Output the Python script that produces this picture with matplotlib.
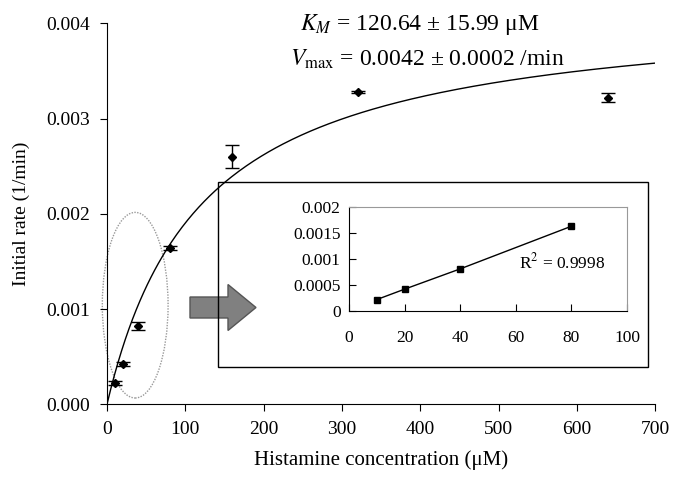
import numpy as np
import matplotlib.pyplot as plt
from matplotlib.patches import Ellipse, Rectangle, FancyArrow

plt.rcParams['font.family'] = ['Liberation Serif', 'DejaVu Serif']
plt.rcParams['mathtext.fontset'] = 'stix'

# histamine kinetics data
conc = [10, 20, 40, 80, 160, 320, 640]
rate = [0.00022, 0.00042, 0.00082, 0.00164, 0.00260, 0.00328, 0.00322]
rate_err = [0.00002, 0.00002, 0.00004, 0.00002, 0.00012, 0.00001, 0.00005]

# Michaelis-Menten fit parameters
km = 120.64
vmax = 0.0042

# linear region (inset)
lin_conc = [10, 20, 40, 80]
lin_rate = [0.00022, 0.00042, 0.00081, 0.00163]

fig = plt.figure(figsize=(6.86, 4.87), dpi=100)
ax = fig.add_axes([0.156, 0.170, 0.799, 0.782])

xs = np.linspace(0, 700, 300)
ax.plot(xs, vmax * xs / (km + xs), color='black', lw=1)
ax.errorbar(conc, rate, yerr=rate_err, fmt='D', color='black', ms=4.5,
            capsize=5, elinewidth=1, capthick=1)

ax.set_xlim(0, 700)
ax.set_ylim(0, 0.004)
ax.set_xticks(range(0, 701, 100))
ax.set_yticks([0, 0.001, 0.002, 0.003, 0.004])
ax.set_yticklabels(['0.000', '0.001', '0.002', '0.003', '0.004'])
ax.tick_params(labelsize=14, direction='out', length=5, pad=7)
for s in ['top', 'right']:
    ax.spines[s].set_visible(False)
ax.set_xlabel('Histamine concentration (μM)', fontsize=15, labelpad=9)
ax.set_ylabel('Initial rate (1/min)', fontsize=14, labelpad=12)

ax.text(246, 0.00399, r'$K_M$ = 120.64 ± 15.99 μM', fontsize=17, va='center')
ax.text(234, 0.00362, r'$V_{\mathrm{max}}$ = 0.0042 ± 0.0002 /min', fontsize=17,
        va='center')

ell = Ellipse((36, 0.00104), 84, 0.00195, fill=False, ec='#999999',
              ls=(0, (1, 1)), lw=1, clip_on=False)
ax.add_patch(ell)

fig.patches.append(FancyArrow(190 / 686, 1 - 307.5 / 487, 38 / 686, 0,
                              width=21 / 487, head_width=46 / 487,
                              head_length=28 / 686, length_includes_head=False,
                              transform=fig.transFigure, fc='#808080',
                              ec='#555555', lw=1))

fig.patches.append(Rectangle((218 / 686, 1 - 367 / 487), 430 / 686, 185 / 487,
                             transform=fig.transFigure, fill=False,
                             ec='black', lw=1))

ins = fig.add_axes([349 / 686, 1 - 311 / 487, 278 / 686, 104 / 487])
ins.plot(lin_conc, lin_rate, color='black', lw=1, marker='s', ms=5)
ins.set_xlim(0, 100)
ins.set_ylim(0, 0.002)
ins.set_xticks(range(0, 101, 20))
ins.set_yticks([0, 0.0005, 0.001, 0.0015, 0.002])
ins.set_yticklabels(['0', '0.0005', '0.001', '0.0015', '0.002'])
ins.tick_params(labelsize=12.5, direction='in', length=5, pad=6)
ins.tick_params(axis='x', pad=14)
ins.spines['top'].set_color('#999999')
ins.spines['right'].set_color('#999999')
ins.text(0.61, 0.41, r'R$^2$ = 0.9998', transform=ins.transAxes, fontsize=12.5)

fig.savefig('out.png', dpi=100)
